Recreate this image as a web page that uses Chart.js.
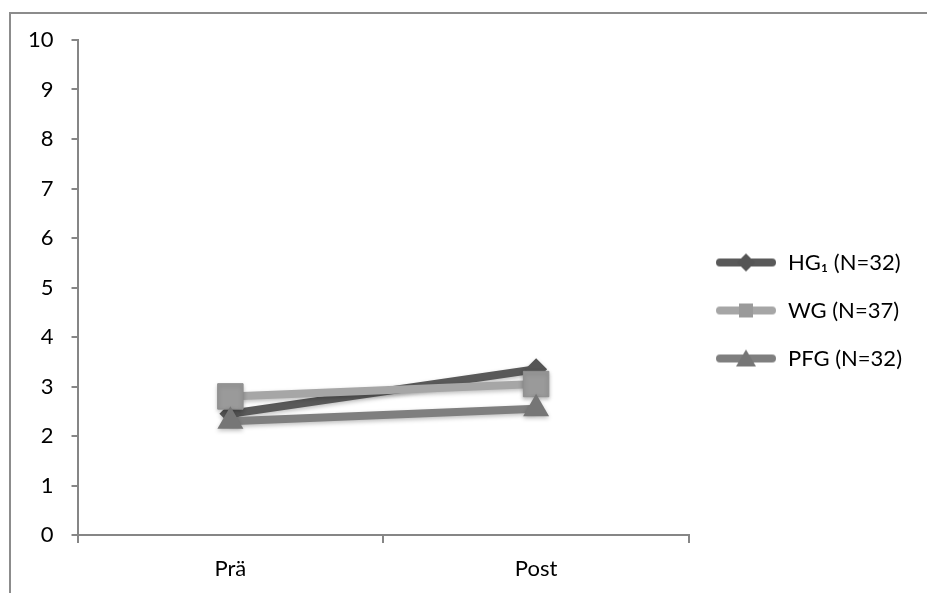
<!DOCTYPE html>
<html>
<head>
<meta charset="utf-8">
<script src="https://cdn.jsdelivr.net/npm/chart.js"></script>
<style>
body{margin:0;background:#fff;}
#frame{position:absolute;left:9px;top:12px;width:918px;height:581px;border-top:2px solid #8c8c8c;border-left:2px solid #8c8c8c;box-sizing:border-box;}
#wrap{position:absolute;left:0;top:0;width:927px;height:593px;}
</style>
</head>
<body>
<div id="frame"></div>
<div id="wrap"><canvas id="chart"></canvas></div>
<script>
const categories=["Prä","Post"];
const yTicks=[0,1,2,3,4,5,6,7,8,9,10];

const hgValues=[2.45,3.35];
const wgValues=[2.8,3.05];
const pfgValues=[2.3,2.55];

const labelHG="HG\u2081 (N=32)";
const labelWG="WG (N=37)";
const labelPFG="PFG (N=32)";

const fontFam="Lato, 'DejaVu Sans', sans-serif";

// little legend symbol: thick line with the marker in the middle
function legendIcon(color,markerColor,shape){
let c=document.createElement("canvas");
c.width=62;c.height=24;
let g=c.getContext("2d");
g.strokeStyle=color;
g.lineWidth=8;
g.lineCap="round";
g.beginPath();
g.moveTo(5,12);g.lineTo(57,12);
g.stroke();
g.fillStyle=markerColor;
g.beginPath();
if(shape==="diamond"){
g.moveTo(31,3);g.lineTo(40,12);g.lineTo(31,21);g.lineTo(22,12);
}
if(shape==="square"){
g.rect(24,5,14,14);
}
if(shape==="triangle"){
g.moveTo(31,3);g.lineTo(41,20);g.lineTo(21,20);
}
g.closePath();
g.fill();
return c;
}

const icons={};
icons[labelHG]=legendIcon("#595959","#555555","diamond");
icons[labelWG]=legendIcon("#a6a6a6","#9a9a9a","square");
icons[labelPFG]=legendIcon("#7f7f7f","#767676","triangle");

const shadowPlugin={
id:"shadow",
beforeDatasetDraw(chart){
let ctx=chart.ctx;
ctx.save();
ctx.shadowColor="rgba(0,0,0,0.25)";
ctx.shadowBlur=4;
ctx.shadowOffsetY=2;
},
afterDatasetDraw(chart){
chart.ctx.restore();
}
};

new Chart(document.getElementById("chart"),{
type:"line",
data:{
labels:categories,
datasets:[
{
label:labelPFG,
data:pfgValues,
borderColor:"#7f7f7f",
backgroundColor:"#767676",
borderWidth:8,
pointStyle:"triangle",
pointRadius:15,
pointBorderWidth:0
},
{
label:labelWG,
data:wgValues,
borderColor:"#a6a6a6",
backgroundColor:"#9a9a9a",
borderWidth:8,
pointStyle:"rect",
pointRadius:18,
pointBorderColor:"#8f8f8f",
pointBorderWidth:1
},
{
label:labelHG,
data:hgValues,
borderColor:"#595959",
backgroundColor:"#555555",
borderWidth:8,
pointStyle:"rectRot",
pointRadius:11,
pointBorderWidth:0
}
]
},
plugins:[shadowPlugin],
options:{
responsive:true,
maintainAspectRatio:false,
animation:false,
layout:{padding:{left:10,top:40,right:15,bottom:12}},
plugins:{
tooltip:{enabled:false},
legend:{
position:"right",
reverse:true,
labels:{
color:"#000",
font:{family:fontFam,size:22},
usePointStyle:true,
pointStyleWidth:62,
boxHeight:18,
padding:26,
generateLabels(chart){
let items=Chart.defaults.plugins.legend.labels.generateLabels(chart);
items.forEach(it=>{it.pointStyle=icons[it.text];});
return items;
}
}
}
},
scales:{
x:{
offset:true,
afterFit(axis){axis.height=46;},
grid:{display:true,drawOnChartArea:false,offset:true,color:"#868686",tickLength:8,lineWidth:2},
border:{color:"#868686",width:2},
ticks:{color:"#000",font:{family:fontFam,size:22},padding:13}
},
y:{
min:0,
max:10,
afterBuildTicks(axis){axis.ticks=yTicks.map(v=>({value:v}));},
grid:{display:true,drawOnChartArea:false,color:"#868686",tickLength:6,lineWidth:2},
border:{color:"#868686",width:2},
ticks:{color:"#000",font:{family:fontFam,size:22},padding:18}
}
}
}
});
</script>
</body>
</html>
